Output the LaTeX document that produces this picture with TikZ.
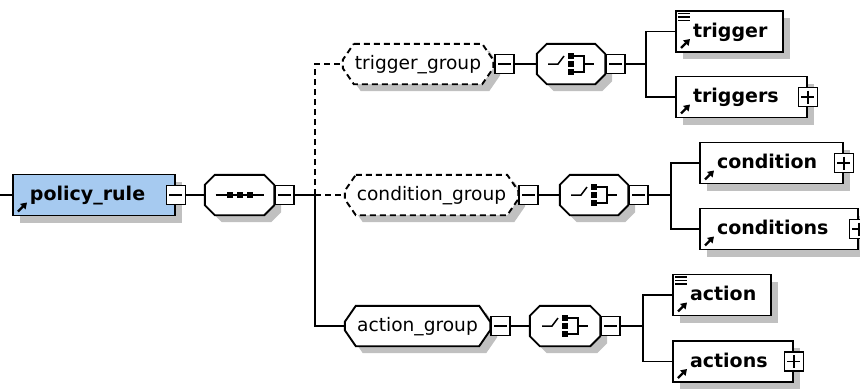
\documentclass[tikz,border=0pt]{standalone}
\usepackage{fontspec}
\setmainfont{DejaVu Sans}
\usetikzlibrary{arrows.meta,shadows,backgrounds}
\hyphenpenalty=10000

\definecolor{rootblue}{RGB}{166,202,240}
\definecolor{shadowgray}{RGB}{192,192,192}

\tikzset{
  conn/.style={line width=1.9pt},
  dconn/.style={conn, dash pattern=on 6pt off 4pt},
  elem/.style={draw=black, fill=white, line width=1.9pt, minimum height=41pt,
    inner xsep=17pt, inner ysep=0pt, align=left, text height=15pt, text depth=4pt,
    font=\bfseries\fontsize{19}{22}\selectfont,
    drop shadow={shadow xshift=7pt, shadow yshift=-7pt, fill=shadowgray, opacity=1},
    path picture={\draw[line width=2.3pt, -{Triangle[length=6pt,width=7.5pt]}]
      ([shift={(5,-4)}]path picture bounding box.south west) --
      ([shift={(14,-13)}]path picture bounding box.south west);}},
  grp/.style={minimum width=#1, minimum height=40pt, inner sep=0pt,
    text height=14pt, text depth=4pt, font=\fontsize{18.6}{22}\selectfont},
  pmbox/.style={draw=black, fill=white, line width=1.6pt, minimum size=19pt, inner sep=0pt},
  minusbox/.style={pmbox, path picture={\draw[line width=1.3pt]
      ([xshift=3pt]path picture bounding box.west) -- ([xshift=-3pt]path picture bounding box.east);}},
  plusbox/.style={pmbox, path picture={\draw[line width=1.3pt]
      ([xshift=3pt]path picture bounding box.west) -- ([xshift=-3pt]path picture bounding box.east)
      ([yshift=-3pt]path picture bounding box.north) -- ([yshift=3pt]path picture bounding box.south);}}
}

\newcommand{\octpath}[3]{([xshift=#2]#1.north west) -- ([xshift=-#2]#1.north east)
  -- ([yshift=-#3]#1.north east) -- ([yshift=#3]#1.south east)
  -- ([xshift=-#2]#1.south east) -- ([xshift=#2]#1.south west)
  -- ([yshift=#3]#1.south west) -- ([yshift=-#3]#1.north west) -- cycle}
\newcommand{\drawocta}[4][]{%
  \fill[shadowgray, transform canvas={xshift=7pt,yshift=-7pt}] \octpath{#2}{#3}{#4};
  \draw[conn, fill=white, #1] \octpath{#2}{#3}{#4};}
\newcommand{\seqmark}[1]{%
  \begin{scope}[shift={(#1.center)}, line width=1.5pt]
    \draw (-24,0) -- (24,0);
    \foreach \x in {-10,0,10} \fill (\x-3,-3) rectangle (\x+3,3);
  \end{scope}}
\newcommand{\choicemark}[1]{%
  \begin{scope}[shift={(#1.center)}, line width=1.5pt]
    \draw (-23,0) -- (-13,0) -- (-7,-8);
    \foreach \y in {-8,0,8} \fill (-3,\y-3) rectangle (3,\y+3);
    \draw (3,-8) -- (13,-8) -- (13,8) -- (3,8);
    \draw (13,0) -- (23,0);
  \end{scope}}
\newcommand{\contentmark}[1]{%
  \foreach \y in {3.5,7,10.5}
    \draw[line width=1.5pt] ([shift={(3,\y)}]#1.north west) -- ++(12,0);}

\begin{document}
\begin{tikzpicture}[x=1pt, y=-1pt]
  \useasboundingbox (0,0) rectangle (860,389);

  \node[elem, fill=rootblue, text width=128pt] (R) at (94,195) {policy\_rule};
  \node[minusbox] (Rm) at (R.east) {};
  \node[grp=69pt] (S) at (239.5,195) {};
  \node[minusbox, anchor=west] (Sm) at (S.east) {};
  \coordinate (in) at (0,195);
  \coordinate (F) at (315,195);

  \node[grp=150pt] (G1) at (418,64) {trigger\_group};
  \node[minusbox, anchor=west] (G1m) at ([xshift=1pt]G1.east) {};
  \node[grp=68pt] (H1) at (571,64) {};
  \node[minusbox, anchor=west] (H1m) at (H1.east) {};
  \coordinate (F1) at (646,64);
  \node[elem, text width=73pt] (E1) at (729.5,31.5) {trigger};
  \node[elem, text width=97pt] (E2) at (741.5,97) {triggers};
  \node[plusbox] (E2p) at (E2.east) {};

  \node[grp=173pt] (G2) at (431.5,195) {condition\_group};
  \node[minusbox, anchor=west] (G2m) at (G2.east) {};
  \node[grp=68pt] (H2) at (594,195) {};
  \node[minusbox, anchor=west] (H2m) at (H2.east) {};
  \coordinate (F2) at (671,195);
  \node[elem, text width=109pt] (E3) at (771.5,163) {condition};
  \node[plusbox] (E3p) at (E3.east) {};
  \node[elem, text width=124pt] (E4) at (779,229) {conditions};
  \node[plusbox] (E4p) at (E4.east) {};

  \node[grp=145pt] (G3) at (417.5,326) {action\_group};
  \node[minusbox, anchor=west] (G3m) at (G3.east) {};
  \node[grp=70pt] (H3) at (565,326) {};
  \node[minusbox, anchor=west] (H3m) at (H3.east) {};
  \coordinate (F3) at (643,326);
  \node[elem, text width=64pt] (E5) at (722,295) {action};
  \node[elem, text width=86pt] (E6) at (733,361.5) {actions};
  \node[plusbox] (E6p) at (E6.east) {};

  \begin{scope}[on background layer]
    \fill[white] (0,0) rectangle (860,389);
    \drawocta{S}{10pt}{10pt}
    \drawocta[dash pattern=on 6pt off 4pt]{G1}{11pt}{16pt}
    \drawocta{H1}{10pt}{10pt}
    \drawocta[dash pattern=on 6pt off 4pt]{G2}{11pt}{16pt}
    \drawocta{H2}{10pt}{10pt}
    \drawocta{G3}{11pt}{16pt}
    \drawocta{H3}{10pt}{10pt}
  \end{scope}

  \seqmark{S}
  \choicemark{H1}
  \choicemark{H2}
  \choicemark{H3}
  \contentmark{E1}
  \contentmark{E5}

  \begin{scope}[every edge/.style={draw=black, conn}]
    \draw (in) edge (R);
    \draw (Rm) edge (S);
    \draw (Sm) edge (F);
    \draw[dconn] (F) |- (G1);
    \draw[dconn] (F) -- (G2);
    \draw[conn] (F) |- (G3);
    \draw (G1m) edge (H1);
    \draw (H1m) edge (F1);
    \draw[conn] (F1) |- (E1);
    \draw[conn] (F1) |- (E2);
    \draw (G2m) edge (H2);
    \draw (H2m) edge (F2);
    \draw[conn] (F2) |- (E3);
    \draw[conn] (F2) |- (E4);
    \draw (G3m) edge (H3);
    \draw (H3m) edge (F3);
    \draw[conn] (F3) |- (E5);
    \draw[conn] (F3) |- (E6);
  \end{scope}
\end{tikzpicture}
\end{document}
